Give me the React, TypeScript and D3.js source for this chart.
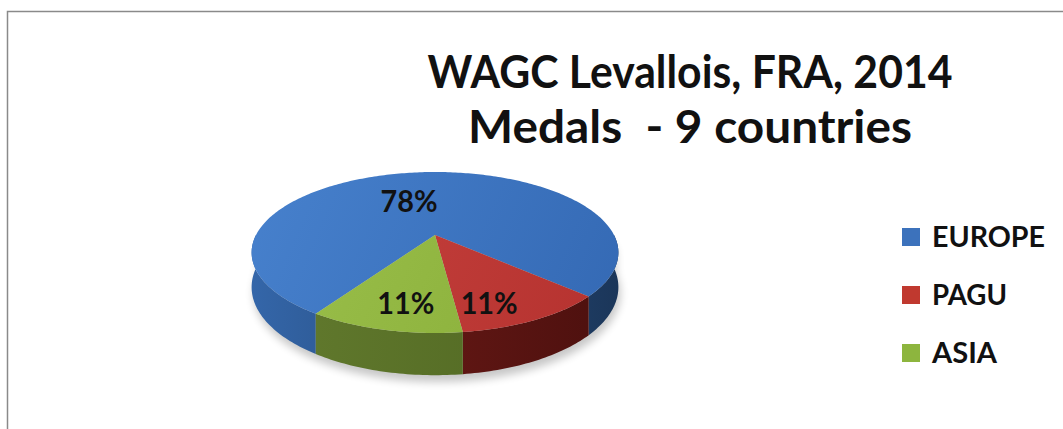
import React from "react";
import * as d3 from "d3";

const categories = ["EUROPE", "PAGU", "ASIA"];
const values = [7, 1, 1];
const titleLines = ["WAGC Levallois, FRA, 2014", "Medals  - 9 countries"];

const topColors = [
  ["#4781cd", "#3469b4"],
  ["#c8433f", "#b5322f"],
  ["#9cc14c", "#88ad38"],
];
const wallColors = [
  ["#3466a9", "#1b3659"],
  ["#761d19", "#4c100e"],
  ["#637b2e", "#4e6521"],
];
const legendColors = ["#3c72bc", "#c0392f", "#8db53e"];

// layout
const W = 1063;
const H = 429;
const CX = 435;
const CY = 235;
const RX = 179;
const RY = 76.7;
const K = 0.2174;
const DEPTH = 33;
const START = 213;
const labelTweaks = [
  { da: -11, r: 0.52 },
  { da: 8, r: 0.78 },
  { da: -2.5, r: 0.75 },
];

function proj(thetaDeg: number, r: number, h: number): [number, number] {
  const t = (thetaDeg * Math.PI) / 180;
  const X = r * Math.sin(t);
  const Z = r * Math.cos(t);
  const s = 1 + K * Z;
  return [CX + (RX * X) / s, CY + (-RY * Z + h) / s];
}

function arcPoints(a0: number, a1: number, h: number, r = 1): [number, number][] {
  const pts: [number, number][] = [];
  const n = Math.max(2, Math.ceil(Math.abs(a1 - a0)));
  for (let i = 0; i <= n; i++) pts.push(proj(a0 + ((a1 - a0) * i) / n, r, h));
  return pts;
}

export default function App() {
  const pie = d3
    .pie<number>()
    .sort(null)
    .startAngle((START * Math.PI) / 180)
    .endAngle(((START + 360) * Math.PI) / 180)(values);
  const deg = (a: number) => (a * 180) / Math.PI;
  const line = d3.line();
  const total = d3.sum(values);

  const slices = pie.map((p, i) => {
    const a0 = deg(p.startAngle);
    const a1 = deg(p.endAngle);
    const top = line([proj(a0, 0, 0), ...arcPoints(a0, a1, 0)])! + "Z";
    const walls: string[] = [];
    for (const off of [0, 360]) {
      const lo = Math.max(a0, 90 + off);
      const hi = Math.min(a1, 270 + off);
      if (hi > lo) {
        const upper = arcPoints(lo, hi, 0);
        const lower = arcPoints(hi, lo, DEPTH);
        walls.push(line([...upper, ...lower])! + "Z");
      }
    }
    const mid = (a0 + a1) / 2 + labelTweaks[i].da;
    const lp = proj(mid, labelTweaks[i].r, 0);
    const pct = Math.round((values[i] / total) * 100) + "%";
    return { i, top, walls, lp, pct };
  });

  const xs = arcPoints(0, 360, 0).map((p) => p[0]);
  const xMin = d3.min(xs)!;
  const xMax = d3.max(xs)!;
  const shadow = line(arcPoints(90, 270, DEPTH + 3).concat(arcPoints(270, 450, DEPTH - 20)))! + "Z";

  const font = "Lato, 'Open Sans', 'DejaVu Sans', sans-serif";
  const legendY = d3.scalePoint<string>().domain(categories).range([237, 353]);
  const legendW = [113, 75, 65];

  return (
    <svg width={W} height={H} style={{ position: "absolute", left: 0, top: 0, background: "#fff" }}>
      <defs>
        <filter id="blur" x="-20%" y="-20%" width="140%" height="140%">
          <feGaussianBlur stdDeviation="4" />
        </filter>
        {slices.map((s) => (
          <linearGradient key={"w" + s.i} id={"wall" + s.i} gradientUnits="userSpaceOnUse" x1={xMin} x2={xMax} y1={0} y2={0}>
            <stop offset="0" stopColor={wallColors[s.i][0]} />
            <stop offset="1" stopColor={wallColors[s.i][1]} />
          </linearGradient>
        ))}
        {slices.map((s) => (
          <linearGradient key={"t" + s.i} id={"top" + s.i} gradientUnits="userSpaceOnUse" x1={xMin} x2={xMax} y1={170} y2={330}>
            <stop offset="0" stopColor={topColors[s.i][0]} />
            <stop offset="1" stopColor={topColors[s.i][1]} />
          </linearGradient>
        ))}
      </defs>
      <path d={`M7.5,429V11.5H${W}`} fill="none" stroke="#8a8a8a" strokeWidth={1.5} />
      <path d={shadow} fill="#000" opacity={0.22} filter="url(#blur)" transform="translate(2,3)" />
      {slices.map((s) => s.walls.map((w, j) => <path key={s.i + "-" + j} d={w} fill={`url(#wall${s.i})`} />))}
      {slices.map((s) => (
        <path key={"top" + s.i} d={s.top} fill={`url(#top${s.i})`} />
      ))}
      {slices.map((s) => (
        <text
          key={"l" + s.i}
          x={s.lp[0]}
          y={s.lp[1]}
          dy="0.36em"
          textAnchor="middle"
          fontFamily={font}
          fontWeight="bold"
          fontSize={31}
          fill="#111"
          textLength={57}
          lengthAdjust="spacingAndGlyphs"
        >
          {s.pct}
        </text>
      ))}
      {titleLines.map((t, i) => (
        <text
          key={"title" + i}
          x={690}
          y={88 + i * 55}
          textAnchor="middle"
          fontFamily={font}
          fontWeight="bold"
          fontSize={45}
          fill="#111"
          textLength={i === 0 ? 525 : 444}
          lengthAdjust="spacingAndGlyphs"
          style={{ whiteSpace: "pre" }}
        >
          {t}
        </text>
      ))}
      {categories.map((c, i) => (
        <g key={c} transform={`translate(902,${legendY(c)})`}>
          <rect x={0} y={-9} width={18} height={18} fill={legendColors[i]} />
          <text
            x={30}
            y={0}
            dy="0.36em"
            fontFamily={font}
            fontWeight="bold"
            fontSize={28}
            fill="#111"
            textLength={legendW[i]}
            lengthAdjust="spacingAndGlyphs"
          >
            {c}
          </text>
        </g>
      ))}
    </svg>
  );
}
